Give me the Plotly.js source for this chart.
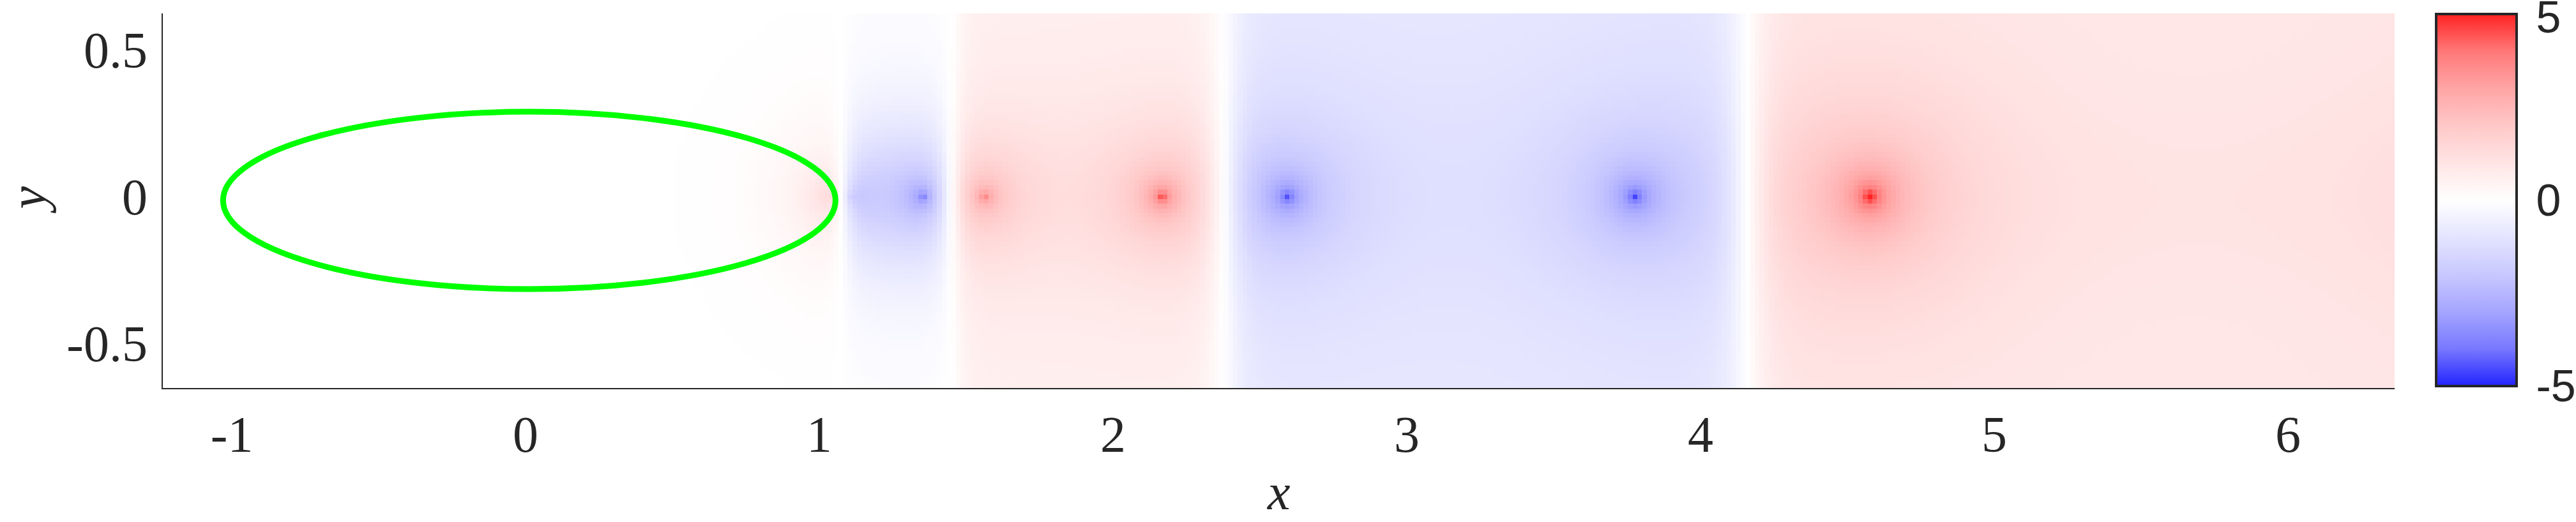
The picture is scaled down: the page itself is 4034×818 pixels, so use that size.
<!DOCTYPE html>
<html><head><meta charset="utf-8">
<script src="https://cdn.plot.ly/plotly-3.0.1.min.js"></script>
<style>html,body{margin:0;padding:0;background:#fff;overflow:hidden}</style>
</head><body><div id="plot" style="width:4034px;height:818px"></div>
<script>
// ---- data ----
const srcX      = [1.043, 1.104, 1.354, 1.563, 2.167, 2.593, 3.776, 4.576, 6.75];
const srcAmp    = [0.40, 0.42, 0.72, 0.66, 0.90, 0.80, 0.82, 1.00, 0.30];
const srcRadius = [0.20, 0.25, 0.30, 0.30, 0.35, 0.40, 0.45, 0.55, 1.00];
const bandEdges       = [1.075, 1.448, 2.376, 4.157];
const bandWidths      = [0.05, 0.06, 0.08, 0.09];
const bandCentreLevel = [0.00, 0.70, 0.65, 0.95, 0.90];
const bandOuterLevel  = [0.00, 0.08, 0.55, 0.85, 0.80];
const ellipseX = [-1.03, 1.055];
const ellipseY = [-0.315, 0.289];
const xTickVals = [-1, 0, 1, 2, 3, 4, 5, 6];
const xTickText = ['-1', '0', '1', '2', '3', '4', '5', '6'];
const yTickVals = [-0.5, 0, 0.5];
const yTickText = ['-0.5', '0', '0.5'];
const cbTickVals = [-4.999, 0, 4.93];
const cbTickText = ['-5', '0', '5'];

// ---- field grid ----
const xRange = [-1.235, 6.363], yRange = [-0.652, 0.624];
const step = 0.016;
const gx = [], gy = [];
for (let i = Math.floor(xRange[0] / step); i * step <= xRange[1] + step; i++) gx.push(+(i * step).toFixed(4));
for (let j = Math.floor(yRange[0] / step); j * step <= yRange[1] + step; j++) gy.push(+(j * step).toFixed(4));
function bandIndex(x) { let k = 0; while (k < bandEdges.length && x > bandEdges[k]) k++; return k; }
const z = gy.map(y => gx.map(x => {
  let sig = 1;
  for (let e = 0; e < bandEdges.length; e++) sig *= Math.tanh((x - bandEdges[e]) / bandWidths[e]);
  const k = bandIndex(x);
  let m = bandOuterLevel[k] + (bandCentreLevel[k] - bandOuterLevel[k]) * Math.exp(-(y / 0.3) * (y / 0.3));
  for (let s = 0; s < srcX.length; s++) {
    const r = Math.max(0.006, Math.hypot(x - srcX[s], y));
    const q = srcRadius[s] / r;
    const d = r / (2 * srcRadius[s]);
    m += srcAmp[s] * 0.5 * Math.log(1 + q * q) * Math.exp(-d * d);
  }
  return sig * m;
}));

const colorscale = [
  [0.0, 'rgb(35,35,255)'], [0.1, 'rgb(120,120,255)'], [0.2, 'rgb(165,165,255)'],
  [0.3, 'rgb(200,200,255)'], [0.4, 'rgb(228,228,255)'], [0.5, 'rgb(255,255,255)'],
  [0.6, 'rgb(255,228,228)'], [0.7, 'rgb(255,200,200)'], [0.8, 'rgb(255,165,165)'],
  [0.9, 'rgb(255,120,120)'], [1.0, 'rgb(255,35,35)']
];

const trace = {
  type: 'heatmap', x: gx, y: gy, z: z, zmin: -5, zmax: 5, zsmooth: false,
  colorscale: colorscale, hoverinfo: 'skip',
  colorbar: {
    thicknessmode: 'pixels', thickness: 126, lenmode: 'pixels', len: 583,
    x: 1.0186, xanchor: 'left', y: 0.5017, yanchor: 'middle', xpad: 0, ypad: 0,
    outlinewidth: 4, outlinecolor: '#262626',
    tickmode: 'array', tickvals: cbTickVals, ticktext: cbTickText,
    ticks: 'outside', ticklen: 15, tickwidth: 1, tickcolor: 'rgba(0,0,0,0)',
    ticklabeloverflow: 'allow',
    tickfont: {family: 'Liberation Sans, Arial, sans-serif', size: 70, color: '#262626'}
  }
};

const axisFont = {family: 'Liberation Serif, Times New Roman, serif', size: 80, color: '#262626'};
const titleFont = {family: 'Liberation Serif, Times New Roman, serif', size: 80, color: '#262626'};
const layout = {
  width: 4034, height: 818,
  margin: {l: 255, r: 284, t: 21, b: 210, autoexpand: false},
  paper_bgcolor: '#ffffff', plot_bgcolor: '#ffffff',
  showlegend: false,
  xaxis: {
    range: xRange, showgrid: false, zeroline: false, showline: true, linecolor: '#262626', linewidth: 2,
    ticks: 'outside', ticklen: 2, tickcolor: 'rgba(0,0,0,0)',
    tickmode: 'array', tickvals: xTickVals, ticktext: xTickText, tickfont: axisFont, automargin: false
  },
  yaxis: {
    range: yRange, showgrid: false, zeroline: false, showline: true, linecolor: '#262626', linewidth: 2,
    ticks: 'outside', ticklen: 6, tickcolor: 'rgba(0,0,0,0)',
    tickmode: 'array', tickvals: yTickVals, ticktext: yTickText, tickfont: axisFont, automargin: false
  },
  annotations: [
    {text: '<i>x</i>', xref: 'paper', yref: 'paper', x: 0.5, y: -0.356, xanchor: 'center', yanchor: 'bottom',
     showarrow: false, font: titleFont},
    {text: '<i>y</i>', xref: 'paper', yref: 'paper', x: -0.0605, y: 0.5026, xanchor: 'center', yanchor: 'middle',
     textangle: -90, showarrow: false, font: titleFont}
  ],
  shapes: [{
    type: 'circle', xref: 'x', yref: 'y',
    x0: ellipseX[0], x1: ellipseX[1], y0: ellipseY[0], y1: ellipseY[1],
    line: {color: '#00ff00', width: 9}, layer: 'above'
  }]
};

Plotly.newPlot('plot', [trace], layout, {staticPlot: true, displayModeBar: false});
</script></body></html>
